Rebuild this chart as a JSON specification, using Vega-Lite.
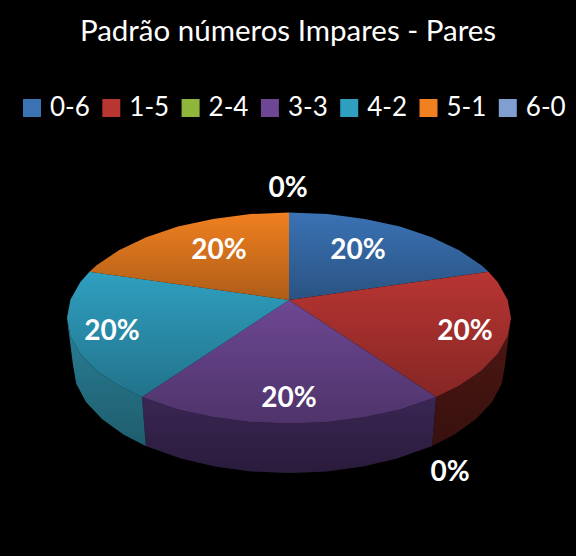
{
  "$schema": "https://vega.github.io/schema/vega-lite/v6.json",
  "description": "Padrao numeros Impares - Pares, tilted pie with side walls",
  "width": 576,
  "height": 556,
  "padding": 0,
  "autosize": {"type": "none"},
  "background": "#000000",
  "title": {
    "text": "Padrão números Impares - Pares",
    "orient": "top",
    "anchor": "middle",
    "dy": 51,
    "color": "#ffffff",
    "font": "Lato",
    "fontSize": 29.5,
    "fontWeight": "normal"
  },
  "datasets": {
    "faces": [
      {"slice": "1-5", "face": "side", "seq": 1, "x": 436.1, "y": 397},
      {"slice": "1-5", "face": "side", "seq": 2, "x": 459, "y": 385.8},
      {"slice": "1-5", "face": "side", "seq": 3, "x": 481.3, "y": 370.8},
      {"slice": "1-5", "face": "side", "seq": 4, "x": 497.6, "y": 354.1},
      {"slice": "1-5", "face": "side", "seq": 5, "x": 507.6, "y": 336.3},
      {"slice": "1-5", "face": "side", "seq": 6, "x": 511, "y": 318},
      {"slice": "1-5", "face": "side", "seq": 7, "x": 505, "y": 365},
      {"slice": "1-5", "face": "side", "seq": 8, "x": 501.7, "y": 383.8},
      {"slice": "1-5", "face": "side", "seq": 9, "x": 492, "y": 401.9},
      {"slice": "1-5", "face": "side", "seq": 10, "x": 476, "y": 419},
      {"slice": "1-5", "face": "side", "seq": 11, "x": 454.5, "y": 434.4},
      {"slice": "1-5", "face": "side", "seq": 12, "x": 432.2, "y": 445.9},

      {"slice": "3-3", "face": "side", "seq": 1, "x": 436.1, "y": 397},
      {"slice": "3-3", "face": "side", "seq": 2, "x": 400, "y": 409.4},
      {"slice": "3-3", "face": "side", "seq": 3, "x": 364.9, "y": 417.1},
      {"slice": "3-3", "face": "side", "seq": 4, "x": 327.5, "y": 421.9},
      {"slice": "3-3", "face": "side", "seq": 5, "x": 289, "y": 423.5},
      {"slice": "3-3", "face": "side", "seq": 6, "x": 250.5, "y": 421.9},
      {"slice": "3-3", "face": "side", "seq": 7, "x": 213.1, "y": 417.1},
      {"slice": "3-3", "face": "side", "seq": 8, "x": 178, "y": 409.4},
      {"slice": "3-3", "face": "side", "seq": 9, "x": 141.9, "y": 397},
      {"slice": "3-3", "face": "side", "seq": 10, "x": 145.8, "y": 445.9},
      {"slice": "3-3", "face": "side", "seq": 11, "x": 181, "y": 458.5},
      {"slice": "3-3", "face": "side", "seq": 12, "x": 215.1, "y": 466.5},
      {"slice": "3-3", "face": "side", "seq": 13, "x": 251.5, "y": 471.4},
      {"slice": "3-3", "face": "side", "seq": 14, "x": 289, "y": 473},
      {"slice": "3-3", "face": "side", "seq": 15, "x": 326.5, "y": 471.4},
      {"slice": "3-3", "face": "side", "seq": 16, "x": 362.9, "y": 466.5},
      {"slice": "3-3", "face": "side", "seq": 17, "x": 397, "y": 458.5},
      {"slice": "3-3", "face": "side", "seq": 18, "x": 432.2, "y": 445.9},

      {"slice": "4-2", "face": "side", "seq": 1, "x": 141.9, "y": 397},
      {"slice": "4-2", "face": "side", "seq": 2, "x": 119, "y": 385.8},
      {"slice": "4-2", "face": "side", "seq": 3, "x": 96.7, "y": 370.8},
      {"slice": "4-2", "face": "side", "seq": 4, "x": 80.4, "y": 354.1},
      {"slice": "4-2", "face": "side", "seq": 5, "x": 70.4, "y": 336.3},
      {"slice": "4-2", "face": "side", "seq": 6, "x": 67, "y": 318},
      {"slice": "4-2", "face": "side", "seq": 7, "x": 73, "y": 365},
      {"slice": "4-2", "face": "side", "seq": 8, "x": 76.3, "y": 383.8},
      {"slice": "4-2", "face": "side", "seq": 9, "x": 86, "y": 401.9},
      {"slice": "4-2", "face": "side", "seq": 10, "x": 102, "y": 419},
      {"slice": "4-2", "face": "side", "seq": 11, "x": 123.5, "y": 434.4},
      {"slice": "4-2", "face": "side", "seq": 12, "x": 145.8, "y": 445.9},

      {"slice": "0-6", "face": "top", "seq": 1, "x": 289, "y": 300},
      {"slice": "0-6", "face": "top", "seq": 2, "x": 289, "y": 212.5},
      {"slice": "0-6", "face": "top", "seq": 3, "x": 327.5, "y": 214.1},
      {"slice": "0-6", "face": "top", "seq": 4, "x": 364.9, "y": 218.9},
      {"slice": "0-6", "face": "top", "seq": 5, "x": 400, "y": 226.6},
      {"slice": "0-6", "face": "top", "seq": 6, "x": 431.7, "y": 237.2},
      {"slice": "0-6", "face": "top", "seq": 7, "x": 459, "y": 250.2},
      {"slice": "0-6", "face": "top", "seq": 8, "x": 481.3, "y": 265.2},
      {"slice": "0-6", "face": "top", "seq": 9, "x": 488.5, "y": 271.8},

      {"slice": "1-5", "face": "top", "seq": 1, "x": 289, "y": 300},
      {"slice": "1-5", "face": "top", "seq": 2, "x": 488.5, "y": 271.8},
      {"slice": "1-5", "face": "top", "seq": 3, "x": 497.6, "y": 281.9},
      {"slice": "1-5", "face": "top", "seq": 4, "x": 507.6, "y": 299.7},
      {"slice": "1-5", "face": "top", "seq": 5, "x": 511, "y": 318},
      {"slice": "1-5", "face": "top", "seq": 6, "x": 507.6, "y": 336.3},
      {"slice": "1-5", "face": "top", "seq": 7, "x": 497.6, "y": 354.1},
      {"slice": "1-5", "face": "top", "seq": 8, "x": 481.3, "y": 370.8},
      {"slice": "1-5", "face": "top", "seq": 9, "x": 459, "y": 385.8},
      {"slice": "1-5", "face": "top", "seq": 10, "x": 436.1, "y": 397},

      {"slice": "3-3", "face": "top", "seq": 1, "x": 289, "y": 300},
      {"slice": "3-3", "face": "top", "seq": 2, "x": 436.1, "y": 397},
      {"slice": "3-3", "face": "top", "seq": 3, "x": 400, "y": 409.4},
      {"slice": "3-3", "face": "top", "seq": 4, "x": 364.9, "y": 417.1},
      {"slice": "3-3", "face": "top", "seq": 5, "x": 327.5, "y": 421.9},
      {"slice": "3-3", "face": "top", "seq": 6, "x": 289, "y": 423.5},
      {"slice": "3-3", "face": "top", "seq": 7, "x": 250.5, "y": 421.9},
      {"slice": "3-3", "face": "top", "seq": 8, "x": 213.1, "y": 417.1},
      {"slice": "3-3", "face": "top", "seq": 9, "x": 178, "y": 409.4},
      {"slice": "3-3", "face": "top", "seq": 10, "x": 141.9, "y": 397},

      {"slice": "4-2", "face": "top", "seq": 1, "x": 289, "y": 300},
      {"slice": "4-2", "face": "top", "seq": 2, "x": 141.9, "y": 397},
      {"slice": "4-2", "face": "top", "seq": 3, "x": 119, "y": 385.8},
      {"slice": "4-2", "face": "top", "seq": 4, "x": 96.7, "y": 370.8},
      {"slice": "4-2", "face": "top", "seq": 5, "x": 80.4, "y": 354.1},
      {"slice": "4-2", "face": "top", "seq": 6, "x": 70.4, "y": 336.3},
      {"slice": "4-2", "face": "top", "seq": 7, "x": 67, "y": 318},
      {"slice": "4-2", "face": "top", "seq": 8, "x": 70.4, "y": 299.7},
      {"slice": "4-2", "face": "top", "seq": 9, "x": 80.4, "y": 281.9},
      {"slice": "4-2", "face": "top", "seq": 10, "x": 89.5, "y": 271.8},

      {"slice": "5-1", "face": "top", "seq": 1, "x": 289, "y": 300},
      {"slice": "5-1", "face": "top", "seq": 2, "x": 89.5, "y": 271.8},
      {"slice": "5-1", "face": "top", "seq": 3, "x": 96.7, "y": 265.2},
      {"slice": "5-1", "face": "top", "seq": 4, "x": 119, "y": 250.2},
      {"slice": "5-1", "face": "top", "seq": 5, "x": 146.3, "y": 237.2},
      {"slice": "5-1", "face": "top", "seq": 6, "x": 178, "y": 226.6},
      {"slice": "5-1", "face": "top", "seq": 7, "x": 213.1, "y": 218.9},
      {"slice": "5-1", "face": "top", "seq": 8, "x": 250.5, "y": 214.1},
      {"slice": "5-1", "face": "top", "seq": 9, "x": 289, "y": 212.5}
    ],
    "labels": [
      {"slice": "0-6", "share": 0.2, "x": 358, "y": 251},
      {"slice": "1-5", "share": 0.2, "x": 465, "y": 332},
      {"slice": "2-4", "share": 0, "x": 450, "y": 473},
      {"slice": "3-3", "share": 0.2, "x": 289, "y": 399},
      {"slice": "4-2", "share": 0.2, "x": 112, "y": 332},
      {"slice": "5-1", "share": 0.2, "x": 219, "y": 251},
      {"slice": "6-0", "share": 0, "x": 288, "y": 189}
    ]
  },
  "encoding": {
    "x": {"field": "x", "type": "quantitative", "axis": null, "scale": {"domain": [0, 576], "nice": false, "zero": false}},
    "y": {"field": "y", "type": "quantitative", "axis": null, "scale": {"domain": [556, 0], "nice": false, "zero": false}}
  },
  "layer": [
    {
      "data": {"name": "faces"},
      "transform": [{"filter": "datum.face == 'side'"}],
      "mark": {"type": "line", "strokeWidth": 0},
      "encoding": {
        "order": {"field": "seq", "type": "quantitative"},
        "fill": {
          "field": "slice",
          "type": "nominal",
          "legend": null,
          "scale": {"domain": ["1-5", "3-3", "4-2"], "range": ["#4d1713", "#3a2653", "#2a8097"]}
        }
      }
    },
    {
      "data": {"name": "faces"},
      "transform": [{"filter": "datum.face == 'top'"}],
      "mark": {"type": "line", "strokeWidth": 0},
      "encoding": {
        "order": {"field": "seq", "type": "quantitative"},
        "fill": {
          "field": "slice",
          "type": "nominal",
          "scale": {
            "domain": ["0-6", "1-5", "2-4", "3-3", "4-2", "5-1", "6-0"],
            "range": ["#3a72b4", "#b83532", "#8fb63c", "#6d4793", "#2f9fc0", "#f08020", "#7f9fd0"]
          },
          "legend": {
            "title": null,
            "orient": "none",
            "legendX": 19,
            "legendY": 95,
            "direction": "horizontal",
            "columns": 7,
            "symbolType": "square",
            "symbolSize": 324,
            "symbolStrokeWidth": 0,
            "labelColor": "#ffffff",
            "labelFont": "Lato",
            "labelFontSize": 26,
            "labelOffset": 5,
            "columnPadding": 8.3,
            "padding": 0
          }
        }
      }
    },
    {
      "data": {"name": "faces"},
      "mark": {
        "type": "line",
        "strokeWidth": 0,
        "fill": {
          "gradient": "linear",
          "x1": 0, "y1": 0, "x2": 0, "y2": 1,
          "stops": [
            {"offset": 0, "color": "rgba(0,0,0,0)"},
            {"offset": 1, "color": "rgba(0,0,0,0.28)"}
          ]
        }
      },
      "encoding": {
        "order": {"field": "seq", "type": "quantitative"},
        "detail": [
          {"field": "slice", "type": "nominal"},
          {"field": "face", "type": "nominal"}
        ]
      }
    },
    {
      "data": {"name": "labels"},
      "mark": {"type": "text", "color": "#ffffff", "font": "Lato", "fontSize": 28, "fontWeight": "bold", "baseline": "middle", "align": "center"},
      "encoding": {
        "text": {"field": "share", "type": "quantitative", "format": ".0%"}
      }
    }
  ],
  "resolve": {"scale": {"fill": "independent"}},
  "config": {"view": {"stroke": null}}
}
